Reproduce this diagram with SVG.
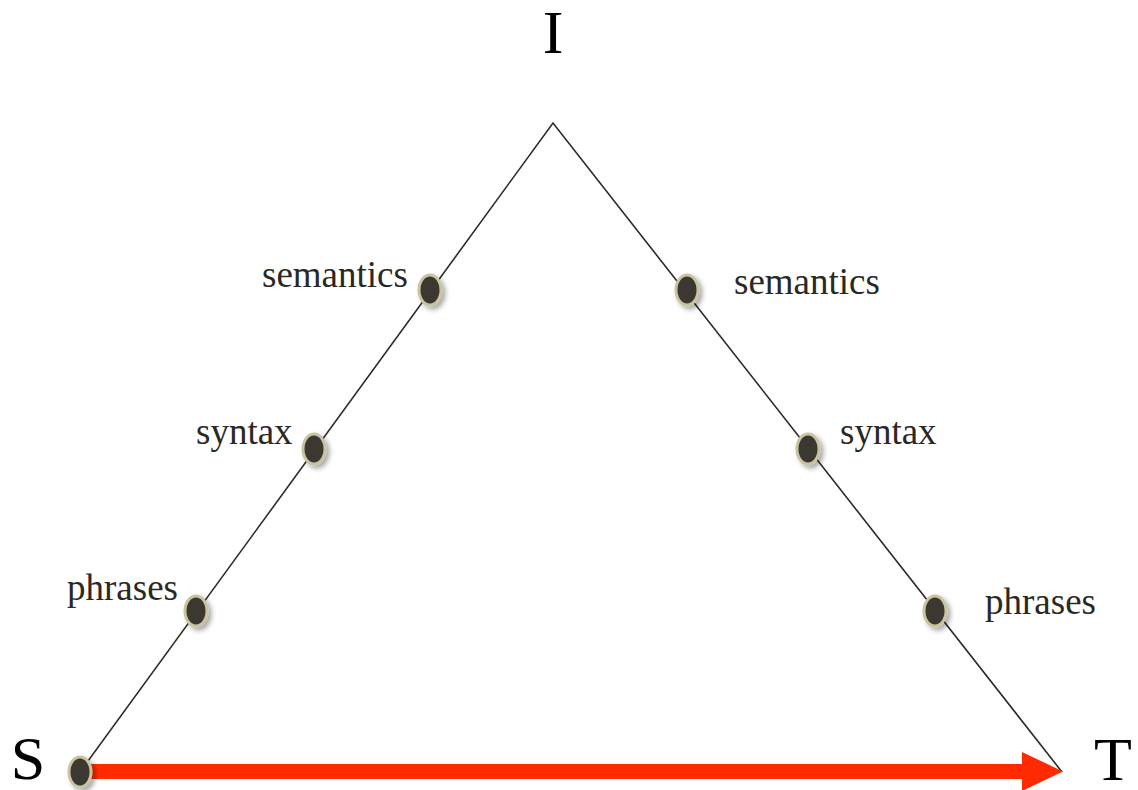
<svg xmlns="http://www.w3.org/2000/svg" width="1138" height="790" viewBox="0 0 1138 790">
<defs>
<filter id="sh" x="-50%" y="-50%" width="200%" height="200%">
<feDropShadow dx="3" dy="3" stdDeviation="2.5" flood-color="#000" flood-opacity="0.35"/>
</filter>
<style>
.lbl{font-family:"Liberation Serif","Times New Roman",serif;font-size:37px;fill:#2b2824}
.big{font-family:"Liberation Serif","Times New Roman",serif;font-size:62px;fill:#000}
.dot{fill:#3b3730;stroke:#c9c3a0;stroke-width:3;filter:url(#sh)}
.edge{stroke:#2e2b26;stroke-width:1.6;fill:none}
</style>
</defs>
<rect width="1138" height="790" fill="#fff"/>
<g id="connectors">
<polyline class="edge" points="80,772 553,123 1062,772"/>
<rect x="88" y="764" width="936" height="15" fill="#ff2a00"/>
<polygon points="1022,752 1063,771.5 1022,791" fill="#ff2a00"/>
</g>
<g id="I"><text class="big" x="553" y="53" text-anchor="middle">I</text></g>
<g id="S"><text class="big" x="28" y="779" text-anchor="middle">S</text><ellipse class="dot" cx="80" cy="772" rx="11" ry="15"/></g>
<g id="T"><text class="big" x="1113" y="780" text-anchor="middle">T</text></g>
<g id="ls"><ellipse class="dot" cx="430" cy="290" rx="11" ry="15"/><text class="lbl" x="262" y="287">semantics</text></g>
<g id="lsy"><ellipse class="dot" cx="314" cy="449" rx="11" ry="15"/><text class="lbl" x="196" y="444">syntax</text></g>
<g id="lp"><ellipse class="dot" cx="196" cy="611" rx="11" ry="15"/><text class="lbl" x="67" y="600">phrases</text></g>
<g id="rs"><ellipse class="dot" cx="687" cy="290" rx="11" ry="15"/><text class="lbl" x="734" y="294">semantics</text></g>
<g id="rsy"><ellipse class="dot" cx="808" cy="449" rx="11" ry="15"/><text class="lbl" x="840" y="444">syntax</text></g>
<g id="rp"><ellipse class="dot" cx="935" cy="611" rx="11" ry="15"/><text class="lbl" x="985" y="614">phrases</text></g>
</svg>
